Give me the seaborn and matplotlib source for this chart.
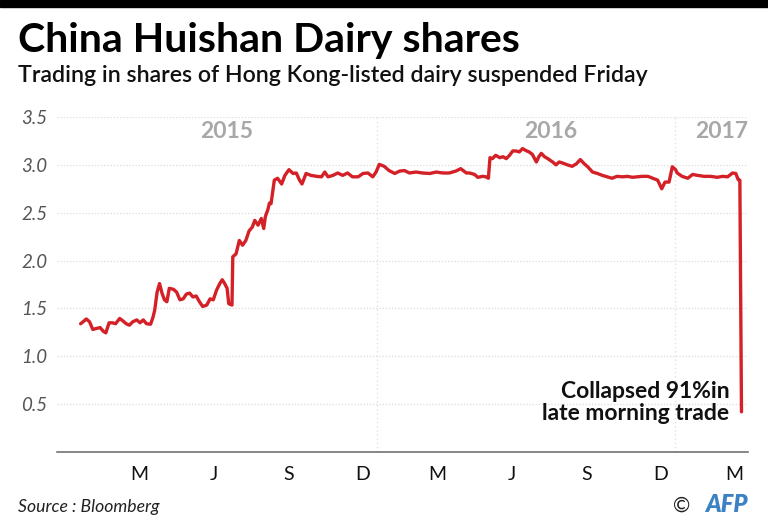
import matplotlib
matplotlib.use("Agg")
import matplotlib.pyplot as plt
import matplotlib.dates as mdates
import pandas as pd
import seaborn as sns

# ---------------- data ----------------
dates = [
    "2015-01-02", "2015-01-05", "2015-01-09", "2015-01-13", "2015-01-17", "2015-01-21",
    "2015-01-26", "2015-01-30", "2015-02-02", "2015-02-06", "2015-02-10", "2015-02-14",
    "2015-02-19", "2015-02-23", "2015-02-27", "2015-03-03", "2015-03-07", "2015-03-12",
    "2015-03-16", "2015-03-20", "2015-03-24", "2015-03-29", "2015-04-01", "2015-04-03",
    "2015-04-06", "2015-04-09", "2015-04-12", "2015-04-15", "2015-04-18", "2015-04-21",
    "2015-04-26", "2015-04-30", "2015-05-04", "2015-05-08", "2015-05-12", "2015-05-16",
    "2015-05-20", "2015-05-24", "2015-05-28", "2015-06-01", "2015-06-06", "2015-06-10",
    "2015-06-14", "2015-06-18", "2015-06-22", "2015-06-25", "2015-06-28", "2015-07-01",
    "2015-07-03", "2015-07-07", "2015-07-08", "2015-07-12", "2015-07-16", "2015-07-20",
    "2015-07-24", "2015-07-28", "2015-08-01", "2015-08-04", "2015-08-08", "2015-08-12",
    "2015-08-15", "2015-08-17", "2015-08-20", "2015-08-22", "2015-08-24", "2015-08-26",
    "2015-08-28", "2015-09-01", "2015-09-06", "2015-09-10", "2015-09-15", "2015-09-20",
    "2015-09-24", "2015-09-28", "2015-10-01", "2015-10-06", "2015-10-12", "2015-10-19",
    "2015-10-25", "2015-10-29", "2015-11-02", "2015-11-08", "2015-11-14", "2015-11-20",
    "2015-11-26", "2015-12-02", "2015-12-09", "2015-12-15", "2015-12-21", "2015-12-27",
    "2015-12-31", "2016-01-04", "2016-01-10", "2016-01-16", "2016-01-23", "2016-01-29",
    "2016-02-04", "2016-02-10", "2016-02-18", "2016-02-26", "2016-03-06", "2016-03-14",
    "2016-03-22", "2016-03-30", "2016-04-07", "2016-04-13", "2016-04-20", "2016-04-24",
    "2016-04-30", "2016-05-04", "2016-05-10", "2016-05-14", "2016-05-17", "2016-05-19",
    "2016-05-22", "2016-05-26", "2016-05-31", "2016-06-04", "2016-06-08", "2016-06-12",
    "2016-06-16", "2016-06-20", "2016-06-24", "2016-06-28", "2016-07-02", "2016-07-06",
    "2016-07-10", "2016-07-15", "2016-07-18", "2016-07-21", "2016-07-25", "2016-07-29",
    "2016-08-04", "2016-08-08", "2016-08-12", "2016-08-16", "2016-08-22", "2016-08-28",
    "2016-09-02", "2016-09-07", "2016-09-12", "2016-09-16", "2016-09-22", "2016-09-28",
    "2016-10-04", "2016-10-10", "2016-10-16", "2016-10-22", "2016-10-29", "2016-11-04",
    "2016-11-10", "2016-11-16", "2016-11-22", "2016-11-29", "2016-12-05", "2016-12-11",
    "2016-12-16", "2016-12-20", "2016-12-25", "2016-12-29", "2017-01-02", "2017-01-04",
    "2017-01-10", "2017-01-17", "2017-01-23", "2017-01-29", "2017-02-06", "2017-02-14",
    "2017-02-22", "2017-03-01", "2017-03-07", "2017-03-13", "2017-03-17", "2017-03-20",
    "2017-03-22", "2017-03-24",
]
prices = [
    1.34, 1.36, 1.39, 1.36, 1.28, 1.29,
    1.30, 1.26, 1.245, 1.35, 1.35, 1.34,
    1.395, 1.37, 1.34, 1.325, 1.36, 1.38,
    1.35, 1.38, 1.34, 1.335, 1.41, 1.48,
    1.67, 1.76, 1.66, 1.59, 1.57, 1.71,
    1.70, 1.67, 1.59, 1.60, 1.65, 1.66,
    1.62, 1.63, 1.57, 1.52, 1.535, 1.60,
    1.59, 1.69, 1.76, 1.80, 1.76, 1.71,
    1.55, 1.535, 2.04, 2.07, 2.21, 2.16,
    2.21, 2.31, 2.35, 2.42, 2.37, 2.44,
    2.335, 2.46, 2.53, 2.60, 2.595, 2.72,
    2.84, 2.86, 2.80, 2.89, 2.95, 2.91,
    2.915, 2.84, 2.80, 2.91, 2.89, 2.88,
    2.875, 2.925, 2.875, 2.89, 2.915, 2.89,
    2.915, 2.875, 2.875, 2.91, 2.915, 2.875,
    2.925, 3.005, 2.985, 2.94, 2.91, 2.935,
    2.94, 2.915, 2.925, 2.915, 2.91, 2.925,
    2.915, 2.915, 2.935, 2.96, 2.915, 2.915,
    2.90, 2.87, 2.88, 2.875, 2.86, 3.075,
    3.065, 3.10, 3.075, 3.085, 3.065, 3.10,
    3.145, 3.145, 3.135, 3.17, 3.15, 3.135,
    3.11, 3.03, 3.085, 3.12, 3.085, 3.065,
    3.03, 3.00, 3.03, 3.02, 3.00, 2.985,
    3.01, 3.055, 3.01, 2.98, 2.925, 2.91,
    2.89, 2.875, 2.86, 2.88, 2.875, 2.88,
    2.87, 2.875, 2.88, 2.88, 2.86, 2.84,
    2.75, 2.82, 2.82, 2.98, 2.95, 2.915,
    2.88, 2.86, 2.90, 2.89, 2.88, 2.88,
    2.87, 2.88, 2.875, 2.915, 2.91, 2.845,
    2.84, 0.42,
]

y_ticks = [0.5, 1.0, 1.5, 2.0, 2.5, 3.0, 3.5]
month_label_dates = ["2015-03-15", "2015-06-15", "2015-09-15", "2015-12-15",
                     "2016-03-15", "2016-06-15", "2016-09-15", "2016-12-15",
                     "2017-03-15"]
month_labels = ["M", "J", "S", "D", "M", "J", "S", "D", "M"]
year_dividers = ["2016-01-01", "2017-01-01"]
year_labels = ["2015", "2016", "2017"]
year_label_dates = ["2015-07-01", "2016-08-02", "2017-04-01"]
x_start, x_end = "2014-12-04", "2017-04-01"

title = "China Huishan Dairy shares"
subtitle = "Trading in shares of Hong Kong-listed dairy suspended Friday"
note = "Collapsed 91%in\nlate morning trade"
source = "Source : Bloomberg"

# ---------------- plot ----------------
sns.set_theme(style="white")
plt.rcParams["font.family"] = ["Lato", "DejaVu Sans"]

df = pd.DataFrame({"date": pd.to_datetime(dates), "price": prices})

fig = plt.figure(figsize=(7.68, 5.30), dpi=100)
fig.patch.set_facecolor("white")
ax = fig.add_axes([57 / 768, 78 / 530, 691 / 768, 335 / 530])

# top black bar
fig.patches.append(plt.Rectangle((0, 1 - 7 / 530), 1, 7 / 530, transform=fig.transFigure,
                                 color="black", zorder=10))

ax.set_xlim(pd.Timestamp(x_start), pd.Timestamp(x_end))
ax.set_ylim(0, 3.5)

for yv in y_ticks:
    ax.axhline(yv, color="#dcdcdc", linestyle=(0, (1, 1.5)), linewidth=0.9, zorder=0)
for d in year_dividers:
    ax.axvline(pd.Timestamp(d), color="#e2e2e2", linestyle=(0, (1, 2)), linewidth=1.0, zorder=0)

sns.lineplot(data=df, x="date", y="price", ax=ax, color="#d42027", linewidth=2.4, zorder=3)

for sp in ["top", "right", "left"]:
    ax.spines[sp].set_visible(False)
ax.spines["bottom"].set_color("#666666")
ax.spines["bottom"].set_linewidth(1.1)

ax.set_yticks(y_ticks)
ax.set_yticklabels([f"{v:.1f}" for v in y_ticks], fontstyle="italic", fontweight="normal",
                   color="#555555", fontsize=13.5)
ax.tick_params(axis="y", length=0, pad=7)

ax.set_xticks(pd.to_datetime(month_label_dates))
ax.set_xticklabels(month_labels, fontsize=14, color="#111111")
ax.xaxis.set_minor_locator(mdates.MonthLocator())
ax.tick_params(axis="x", which="major", length=0, pad=10)
ax.tick_params(axis="x", which="minor", length=6, direction="inout", color="#777777", width=0.9)
ax.set_xlabel("")
ax.set_ylabel("")
ax.grid(False)

for lab, d in zip(year_labels, year_label_dates):
    ha = "right" if lab == year_labels[-1] else "center"
    ax.text(pd.Timestamp(d), 3.35, lab, ha=ha, va="center", fontsize=16.5,
            fontweight="bold", color="#a8a8a8")

ax.text(pd.Timestamp("2017-03-09"), 0.52, note, ha="right", va="center", fontsize=16.5,
        fontweight="bold", color="#111111", linespacing=1.05, multialignment="right")

fig.text(18 / 768, 1 - 52 / 530, title, fontsize=29.5, fontweight="bold", color="black",
         va="baseline", ha="left")
fig.text(18 / 768, 1 - 82 / 530, subtitle, fontsize=16.7, fontweight="semibold", color="#111111",
         va="baseline", ha="left")
fig.text(18 / 768, 1 - 512 / 530, source, fontsize=12.7, fontstyle="italic", color="#222222",
         va="baseline", ha="left")
fig.text(690 / 768, 1 - 512 / 530, "©", fontsize=15, color="#222222", va="baseline", ha="right")
fig.text(748 / 768, 1 - 512 / 530, "AFP", fontsize=17, fontweight="heavy", fontstyle="italic",
         color="#3b82c4", va="baseline", ha="right")

fig.savefig("out.png", dpi=100, facecolor="white")
